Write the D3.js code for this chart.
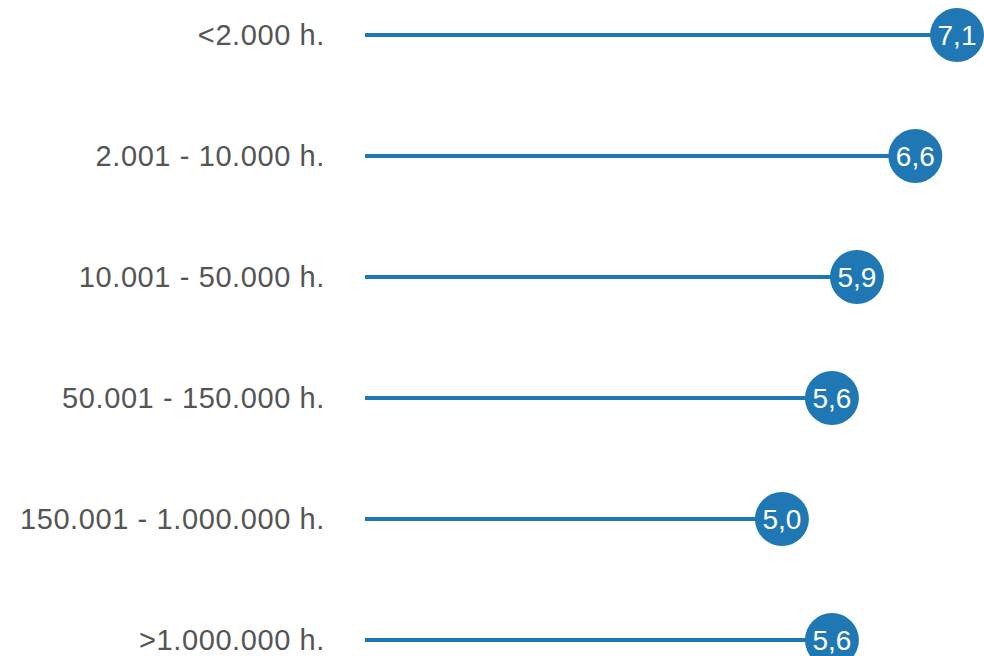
<!DOCTYPE html>
<html>
<head>
<meta charset="utf-8">
<script src="https://cdn.jsdelivr.net/npm/d3@7"></script>
<style>
  html, body { margin: 0; padding: 0; background: #fff; }
  svg { display: block; }
</style>
</head>
<body>
<div id="chart"></div>
<script>
const categories = ["<2.000 h.", "2.001 - 10.000 h.", "10.001 - 50.000 h.", "50.001 - 150.000 h.", "150.001 - 1.000.000 h.", ">1.000.000 h."];
const values = [7.1, 6.6, 5.9, 5.6, 5.0, 5.6];
const valueLabels = ["7,1", "6,6", "5,9", "5,6", "5,0", "5,6"];

const W = 984, H = 656;
const color = "#1f77b4";

const svg = d3.select("#chart")
  .append("svg")
  .attr("width", W)
  .attr("height", H);

const x = d3.scaleLinear().domain([0, 7.1]).range([365, 957]);
const y = d3.scalePoint().domain(categories).range([35, 640]);

const data = categories.map((c, i) => ({ cat: c, value: values[i], label: valueLabels[i] }));

// category labels
svg.append("g").selectAll("text")
  .data(data)
  .enter().append("text")
  .attr("x", 325)
  .attr("y", d => y(d.cat))
  .attr("dy", "0.35em")
  .attr("text-anchor", "end")
  .attr("font-family", "'Liberation Sans', Arial, sans-serif")
  .attr("font-size", 29)
  .attr("letter-spacing", 0.6)
  .attr("fill", "#555")
  .text(d => d.cat);

const rows = svg.append("g").selectAll("g")
  .data(data)
  .enter().append("g");

rows.append("line")
  .attr("x1", x(0))
  .attr("x2", d => x(d.value))
  .attr("y1", d => y(d.cat))
  .attr("y2", d => y(d.cat))
  .attr("stroke", color)
  .attr("stroke-width", 4);

rows.append("circle")
  .attr("cx", d => x(d.value))
  .attr("cy", d => y(d.cat))
  .attr("r", 27)
  .attr("fill", color);

rows.append("text")
  .attr("x", d => x(d.value))
  .attr("y", d => y(d.cat))
  .attr("dy", "0.35em")
  .attr("text-anchor", "middle")
  .attr("font-family", "'Liberation Sans', Arial, sans-serif")
  .attr("font-size", 28)
  .attr("fill", "#fff")
  .text(d => d.label);
</script>
</body>
</html>
